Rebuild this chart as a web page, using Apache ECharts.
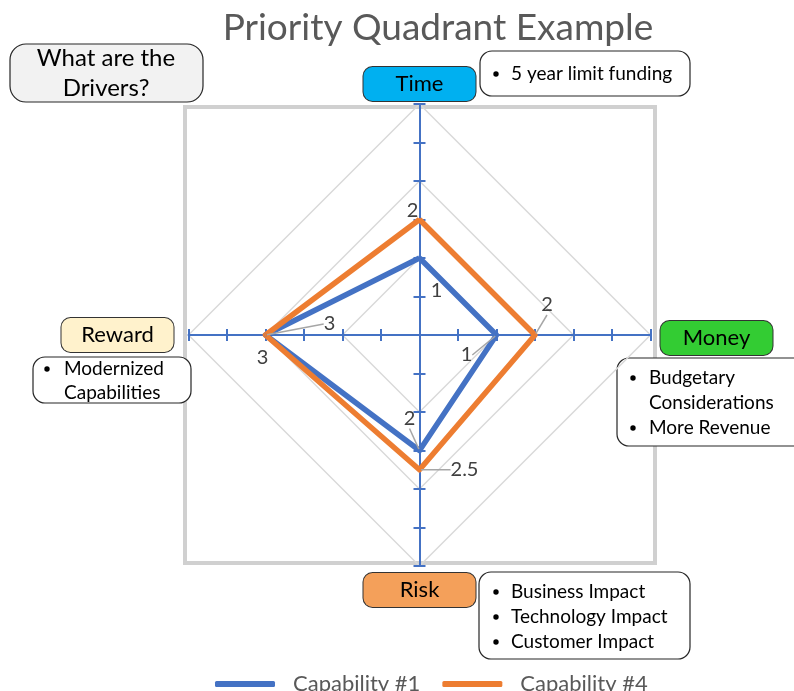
<!DOCTYPE html>
<html>
<head>
<meta charset="utf-8">
<title>Priority Quadrant Example</title>
<script src="https://cdn.jsdelivr.net/npm/echarts@6/dist/echarts.min.js"></script>
<style>
  html, body { margin: 0; padding: 0; background: #fff; }
  #chart { width: 794px; height: 691px; }
</style>
</head>
<body>
<div id="chart"></div>
<script>
"use strict";

// --- DATA ---
// radar indicators run counterclockwise from the top
const categories = ['Time', 'Reward', 'Risk', 'Money'];
const capability1 = [1, 3, 2, 1];
const capability4 = [2, 3, 2.5, 2];
const seriesNames = ['Capability #1', 'Capability #4'];
const axisMin = -1;
const axisMax = 5;

const timeNotes = ['5 year limit funding'];
const rewardNotes = [['Modernized', 'Capabilities']];
const moneyNotes = [['Budgetary', 'Considerations'], ['More Revenue']];
const riskNotes = ['Business Impact', 'Technology Impact', 'Customer Impact'];

// --- LAYOUT ---
const FONT = 'Lato, "Open Sans", sans-serif';
const CX = 419.5, CY = 335, R = 231;
const BLUE = '#4472C4', ORANGE = '#ED7D31';
const nameColors = { Time: '#00B0F0', Money: '#33CC33', Risk: '#F4A05A', Reward: '#FFF2CC' };

// label offsets from the vertex, per radar data item (0/1 with leader line, 2/3 plain)
const labelOffsets = [
  { Money: [-30, 20], Risk: [-10, -32], Reward: [64, -11] },
  { Money: [12, -30], Risk: [45, 0] },
  { Time: [17, 33] },
  { Time: [-7, -9], Reward: [-3, 23] }
];

function axisOf(px, py) {
  const dx = px - CX, dy = py - CY;
  if (Math.abs(dy) > Math.abs(dx)) return dy < 0 ? 'Time' : 'Risk';
  return dx < 0 ? 'Reward' : 'Money';
}

const indicator = categories.map(name => ({ name, min: axisMin, max: axisMax }));

const rich = {
  sp: { width: 1, height: 4 },
  spv: { width: 1, height: 6 },
  sph: { width: 7, height: 1 },
  spw: { width: 12, height: 1 }
};
categories.forEach(name => {
  rich[name.toLowerCase()] = {
    width: 112, height: 34, lineHeight: 34, align: 'center',
    fontSize: 22, fontFamily: FONT, color: '#000',
    backgroundColor: nameColors[name], borderColor: '#333', borderWidth: 1, borderRadius: 9
  };
});
// small spacer tokens so every name box sits where it sits in the original
const nameFormat = {
  Time: n => '{time|' + n + '}',
  Risk: n => '{sp|}\n{risk|' + n + '}',
  Money: n => '{spv|}\n{sph|}{money|' + n + '}',
  Reward: n => '{reward|' + n + '}{spw|}'
};

// note boxes drawn as graphic
function noteBox(x, y, w, h, lines, bulletX, textX, firstY, step) {
  const children = [{
    type: 'rect', shape: { x, y, width: w, height: h, r: 12 },
    style: { fill: '#fff', stroke: '#262626', lineWidth: 1.2 }
  }];
  let row = 0;
  lines.forEach(item => {
    const parts = Array.isArray(item) ? item : [item];
    children.push({
      type: 'circle', shape: { cx: bulletX, cy: firstY + row * step, r: 2.7 },
      style: { fill: '#000' }
    });
    parts.forEach(t => {
      children.push({
        type: 'text',
        style: { text: t, x: textX, y: firstY + row * step, font: '19px ' + FONT, fill: '#000', verticalAlign: 'middle' }
      });
      row++;
    });
  });
  return { type: 'group', z: 100, children };
}

const chart = echarts.init(document.getElementById('chart'), null, { renderer: 'canvas' });

const labelStyle = { show: true, color: '#404040', fontSize: 20, fontFamily: FONT };

chart.setOption({
  animation: false,
  legend: {
    data: seriesNames,
    left: 210, top: 668,
    icon: 'roundRect', itemWidth: 60, itemHeight: 6, itemGap: 22,
    textStyle: { fontSize: 22, color: '#595959', fontFamily: FONT, padding: [0, 0, 0, 13] }
  },
  radar: [
    {
      center: [CX, CY], radius: R, startAngle: 90, shape: 'polygon', splitNumber: 6,
      indicator,
      nameGap: 3,
      axisName: { formatter: name => nameFormat[name](name), rich },
      axisLine: { lineStyle: { color: BLUE, width: 2 } },
      axisTick: { show: true, length: 6, lineStyle: { color: BLUE, width: 2 } },
      axisLabel: { show: false },
      splitLine: { lineStyle: { color: ['#d9d9d9', 'rgba(0,0,0,0)'], width: 1.5 } },
      splitArea: { show: false }
    },
    {
      // same axes again, negative tick length puts the ticks on the other side of each line
      center: [CX, CY], radius: R, startAngle: 90, shape: 'polygon', splitNumber: 6,
      indicator,
      axisName: { show: false },
      axisLine: { show: true, lineStyle: { color: 'rgba(0,0,0,0)', width: 1 } },
      axisTick: { show: true, length: -6, lineStyle: { color: BLUE, width: 2 } },
      axisLabel: { show: false },
      splitLine: { show: false },
      splitArea: { show: false }
    }
  ],
  series: [{
    type: 'radar',
    radarIndex: 0,
    symbol: 'circle',
    symbolSize: 3,
    label: labelStyle,
    labelLine: { show: false },
    labelLayout: p => {
      const px = p.rect.x + p.rect.width / 2, py = p.rect.y + p.rect.height / 2;
      const off = labelOffsets[p.dataIndex][axisOf(px, py)];
      if (!off) return { x: px, y: py, fontSize: 0.1 };
      return { x: px + off[0], y: py + off[1], align: 'center', verticalAlign: 'middle' };
    },
    emphasis: { disabled: true },
    data: [
      {
        name: seriesNames[0], value: capability1,
        itemStyle: { color: BLUE }, lineStyle: { color: BLUE, width: 5.5 },
        labelLine: { show: true, lineStyle: { color: '#a6a6a6', width: 1.5 } }
      },
      {
        name: seriesNames[1], value: capability4,
        itemStyle: { color: ORANGE }, lineStyle: { color: ORANGE, width: 5.5 },
        labelLine: { show: true, lineStyle: { color: '#a6a6a6', width: 1.5 } }
      },
      {
        name: 'labels-1', value: capability1,
        itemStyle: { color: 'rgba(0,0,0,0)' }, lineStyle: { width: 0, opacity: 0 }
      },
      {
        name: 'labels-4', value: capability4,
        itemStyle: { color: 'rgba(0,0,0,0)' }, lineStyle: { width: 0, opacity: 0 }
      }
    ]
  }],
  graphic: [
    {
      type: 'rect', z: -1, silent: true,
      shape: { x: 185, y: 107, width: 470, height: 456 },
      style: { fill: 'none', stroke: '#d0d0d0', lineWidth: 4 }
    },
    {
      type: 'text', z: 100,
      style: { text: 'Priority Quadrant Example', x: 438, y: 28, align: 'center', verticalAlign: 'middle',
               font: '37px ' + FONT, fill: '#595959' }
    },
    {
      type: 'group', z: 100,
      children: [
        { type: 'rect', shape: { x: 10, y: 44, width: 193, height: 58, r: 16 },
          style: { fill: '#F2F2F2', stroke: '#262626', lineWidth: 1.2 } },
        { type: 'text',
          style: { text: 'What are the\nDrivers?', x: 106, y: 73, align: 'center', verticalAlign: 'middle',
                   font: '24px ' + FONT, lineHeight: 30, fill: '#000' } }
      ]
    },
    noteBox(480, 51, 210, 45, timeNotes, 496, 511, 74, 25),
    noteBox(33, 357, 158, 46, rewardNotes, 47, 64, 369, 24),
    noteBox(617, 358, 200, 88, moneyNotes, 633, 649, 378, 25),
    noteBox(479, 572, 211, 87, riskNotes, 496, 511, 592, 25)
  ]
});
</script>
</body>
</html>
